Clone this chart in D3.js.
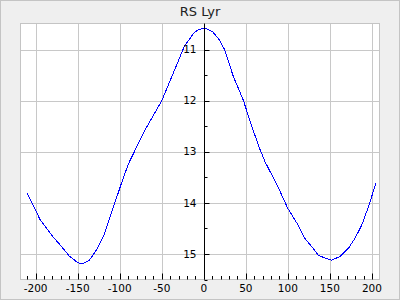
<!DOCTYPE html>
<html lang="en">
<head>
<meta charset="UTF-8">
<title>RS Lyr</title>
<script src="https://cdnjs.cloudflare.com/ajax/libs/d3/7.8.5/d3.min.js"></script>
<style>
    body { margin: 0; background: #fff; }
    svg { display: block; font-family: 'DejaVu Sans', sans-serif; }
</style>
</head>
<body>
<div id="chart"></div>
<script>
// light curve: phase vs magnitude
const phase = [-210, -199, -195, -181, -169, -160, -150, -145, -140, -136, -128, -119, -106, -98, -90, -82, -68, -50, -36, -23, -11, -5, 3, 11, 19, 25, 35, 47, 57, 67, 73, 88, 100, 112, 120, 130, 136, 144, 152, 162, 172, 180, 188, 196, 205];
const mag = [13.81, 14.18, 14.32, 14.63, 14.86, 15.04, 15.17, 15.19, 15.16, 15.12, 14.93, 14.64, 14.01, 13.62, 13.25, 12.98, 12.52, 12.0, 11.45, 10.93, 10.66, 10.60, 10.59, 10.66, 10.82, 11.01, 11.52, 11.99, 12.5, 12.96, 13.2, 13.68, 14.11, 14.43, 14.69, 14.89, 15.02, 15.08, 15.12, 15.05, 14.89, 14.69, 14.43, 14.07, 13.6];
const xTicks = [-200, -150, -100, -50, 0, 50, 100, 150, 200];
const yTicks = [11, 12, 13, 14, 15];
const title = "RS Lyr";

const width = 400, height = 300;
const plot = { left: 20.5, right: 379.5, top: 23.5, bottom: 279.5 };

const svg = d3.select("#chart").append("svg")
    .attr("width", width)
    .attr("height", height);

// outer background + border
svg.append("rect")
    .attr("x", 0.5).attr("y", 0.5)
    .attr("width", width - 1).attr("height", height - 1)
    .attr("fill", "#efefef")
    .attr("stroke", "#c4c4c4");

svg.append("rect")
    .attr("x", plot.left).attr("y", plot.top)
    .attr("width", plot.right - plot.left)
    .attr("height", plot.bottom - plot.top)
    .attr("fill", "#fff");

const x = d3.scaleLinear().domain([-218, 209]).range([plot.left, plot.right]);
const y = d3.scaleLinear().domain([10.49, 15.5]).range([plot.top, plot.bottom]);
const px = v => Math.round(x(v)) + 0.5;
const py = v => Math.round(y(v)) + 0.5;

// grid
const grid = svg.append("g").attr("stroke", "#c8c8c8").attr("stroke-width", 1);
grid.selectAll("line.v").data(xTicks.filter(d => d !== 0)).enter().append("line")
    .attr("x1", d => px(d)).attr("x2", d => px(d))
    .attr("y1", plot.top).attr("y2", plot.bottom);
grid.selectAll("line.h").data(yTicks).enter().append("line")
    .attr("y1", d => py(d)).attr("y2", d => py(d))
    .attr("x1", plot.left).attr("x2", plot.right);

// plot border
svg.append("rect")
    .attr("x", plot.left).attr("y", plot.top)
    .attr("width", plot.right - plot.left)
    .attr("height", plot.bottom - plot.top)
    .attr("fill", "none")
    .attr("stroke", "#c4c4c4");

// curve (aliased like the original)
const pts = phase.map((p, i) => [p, mag[i]]);
svg.append("path")
    .datum(pts)
    .attr("fill", "none")
    .attr("stroke", "#0000ff")
    .attr("stroke-width", 1)
    .attr("shape-rendering", "crispEdges")
    .attr("d", d3.line().x(d => x(d[0])).y(d => y(d[1])));

// x axis ticks (drawn inward, up from the bottom)
const xMinor = d3.range(-210, 201, 10);
const xa = svg.append("g").attr("stroke", "#000");
xa.selectAll("line").data(xMinor).enter().append("line")
    .attr("x1", d => px(d)).attr("x2", d => px(d))
    .attr("y1", plot.bottom)
    .attr("y2", d => plot.bottom - (d % 50 === 0 ? 6 : 3.5));
svg.append("g").selectAll("text").data(xTicks).enter().append("text")
    .attr("x", d => x(d))
    .attr("y", 292)
    .attr("text-anchor", "middle")
    .attr("font-size", "10.5px")
    .attr("fill", "#000")
    .text(d => d);

// y axis at phase 0
const x0 = px(0);
svg.append("line")
    .attr("x1", x0).attr("x2", x0)
    .attr("y1", plot.top).attr("y2", plot.bottom)
    .attr("stroke", "#000");
const yMinor = d3.range(11, 15.51, 0.5);
svg.append("g").attr("stroke", "#000").selectAll("line").data(yMinor).enter().append("line")
    .attr("y1", d => py(d)).attr("y2", d => py(d))
    .attr("x1", x0)
    .attr("x2", d => x0 + (Number.isInteger(d) ? 5 : 3));
svg.append("g").selectAll("text").data(yTicks).enter().append("text")
    .attr("x", x0 - 8)
    .attr("y", d => y(d))
    .attr("dy", "0.35em")
    .attr("text-anchor", "end")
    .attr("font-size", "10.5px")
    .attr("fill", "#000")
    .text(d => d);

// title
svg.append("text")
    .attr("x", 200)
    .attr("y", 16)
    .attr("text-anchor", "middle")
    .attr("font-size", "13px")
    .attr("fill", "#222")
    .text(title);
</script>
</body>
</html>
